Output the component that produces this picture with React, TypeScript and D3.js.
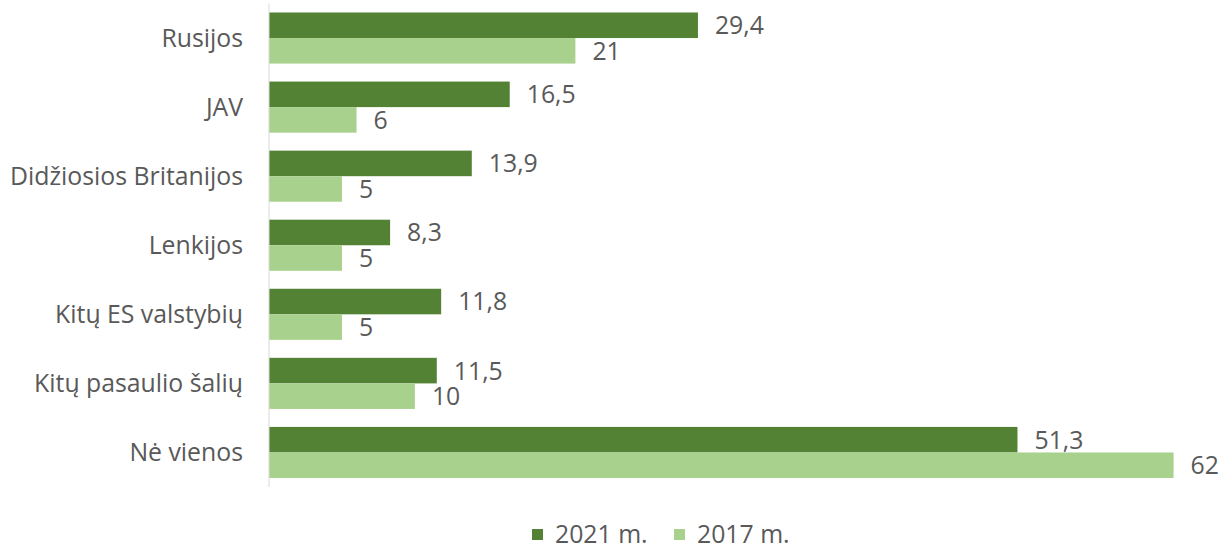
import React from "react";
import * as d3 from "d3";

const categories = ["Rusijos", "JAV", "Didžiosios Britanijos", "Lenkijos", "Kitų ES valstybių", "Kitų pasaulio šalių", "Nė vienos"];
const series2021 = [29.4, 16.5, 13.9, 8.3, 11.8, 11.5, 51.3];
const series2017 = [21, 6, 5, 5, 5, 10, 62];
const seriesNames = ["2021 m.", "2017 m."];
const colors = ["#548235", "#A9D18E"];

const fmt = (v: number) => String(v).replace(".", ",");

export default function App() {
  const W = 1231, H = 550;
  const left = 269;
  const top = 3.5, bottom = 487;
  const x = d3.scaleLinear().domain([0, 62]).range([left, 269 + 62 * 14.59]);
  const y = d3.scaleBand().domain(categories).range([top, bottom]).paddingInner(0.26).paddingOuter(0.13);
  const inner = d3.scaleBand().domain(["a", "b"]).range([0, y.bandwidth()]);
  const all = [series2021, series2017];
  const font = "'Open Sans', sans-serif";
  const fs = 24.8;
  const legY = 543;
  return (
    <svg width={W} height={H} style={{ position: "absolute", left: 0, top: 0 }} fontFamily={font}>
      <rect width={W} height={H} fill="#fff" />
      {categories.map((c, i) => (
        <g key={c}>
          {all.map((s, k) => {
            const yy = (y(c) as number) + (inner(k === 0 ? "a" : "b") as number);
            return (
              <g key={k}>
                <rect x={x(0)} y={yy} width={x(s[i]) - x(0)} height={inner.bandwidth()} fill={colors[k]} />
                <text x={x(s[i]) + 17} y={yy + inner.bandwidth() / 2} dy="0.36em" fontSize={fs} fill="#595959">{fmt(s[i])}</text>
              </g>
            );
          })}
          <text x={243} y={(y(c) as number) + y.bandwidth() / 2} dy="0.36em" textAnchor="end" fontSize={fs} fill="#595959">{c}</text>
        </g>
      ))}
      <line x1={left} x2={left} y1={top} y2={bottom} stroke="#d9d9d9" strokeWidth={1} />
      <g>
        <rect x={532} y={legY - 14} width={11} height={11} fill={colors[0]} />
        <text x={555} y={legY} fontSize={fs} fill="#595959">{seriesNames[0]}</text>
        <rect x={674} y={legY - 14} width={11} height={11} fill={colors[1]} />
        <text x={697} y={legY} fontSize={fs} fill="#595959">{seriesNames[1]}</text>
      </g>
    </svg>
  );
}
